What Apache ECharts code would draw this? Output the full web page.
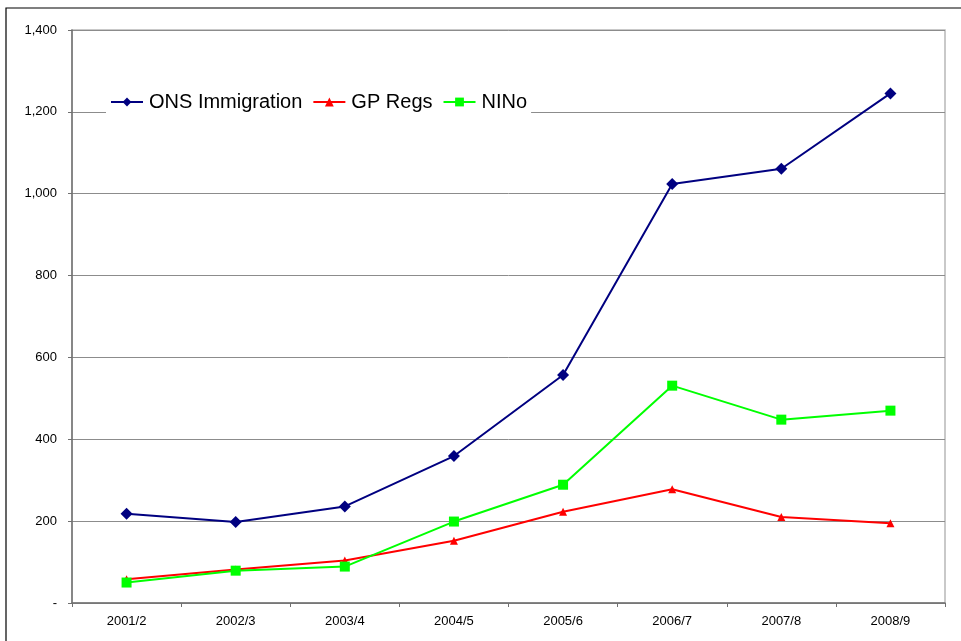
<!DOCTYPE html>
<html>
<head>
<meta charset="utf-8">
<script src="https://cdn.jsdelivr.net/npm/echarts@6/dist/echarts.min.js"></script>
<style>
  html, body { margin: 0; padding: 0; background: #ffffff; }
  #chart { width: 961px; height: 641px; }
</style>
</head>
<body>
<div id="chart"></div>
<script>
// Financial years on the category axis
const years = ['2001/2', '2002/3', '2003/4', '2004/5', '2005/6', '2006/7', '2007/8', '2008/9'];

// Thousands, per year
const onsImmigration = [218, 198, 236, 359, 557, 1024, 1061, 1245];
const gpRegs = [58, 82, 104, 152, 223, 278, 210, 195];
const nino = [50, 79, 89, 199, 289, 531, 448, 470];

// Y-axis range and step
const yMin = 0, yMax = 1400, yStep = 200;

const chart = echarts.init(document.getElementById('chart'), null, { renderer: 'canvas' });

const fontFamily = 'Liberation Sans, Arial, sans-serif';

chart.setOption({
  animation: false,
  backgroundColor: '#ffffff',
  graphic: [{
    type: 'rect',
    shape: { x: 6, y: 8, width: 1000, height: 700 },
    style: { fill: 'none', stroke: '#000000', lineWidth: 1.2 },
    silent: true,
    z: 100
  }],
  grid: {
    left: 72, right: 16, top: 30, bottom: 38,
    show: true,
    borderColor: '#b8b8b8',
    borderWidth: 1.5,
    backgroundColor: '#ffffff'
  },
  legend: {
    left: 106, top: 89,
    backgroundColor: '#ffffff',
    padding: [3, 4, 3, 4],
    itemWidth: 32, itemHeight: 11,
    itemGap: 10,
    textStyle: { fontFamily: fontFamily, fontSize: 20, color: '#000000', padding: [0, 0, 0, 1] },
    data: ['ONS Immigration', 'GP Regs', 'NINo'],
    z: 10
  },
  xAxis: {
    type: 'category',
    data: years,
    boundaryGap: true,
    axisLine: { lineStyle: { color: '#707070', width: 1.5 } },
    axisTick: { show: true, length: 4, lineStyle: { color: '#707070', width: 1 } },
    axisLabel: { color: '#000000', fontFamily: fontFamily, fontSize: 13, margin: 12 },
    splitLine: { show: false }
  },
  yAxis: {
    type: 'value',
    min: yMin, max: yMax, interval: yStep,
    axisLine: { show: true, lineStyle: { color: '#707070', width: 1.5 } },
    axisTick: { show: true, length: 4, lineStyle: { color: '#707070', width: 1 } },
    axisLabel: {
      color: '#000000', fontFamily: fontFamily, fontSize: 13, margin: 15,
      formatter: function (v) { return v === 0 ? '-' : v.toLocaleString('en-GB'); }
    },
    splitLine: { show: true, lineStyle: { color: '#8c8c8c', width: 1 } }
  },
  series: [
    {
      name: 'ONS Immigration', type: 'line', data: onsImmigration,
      symbol: 'diamond', symbolSize: 12,
      lineStyle: { color: '#000080', width: 2 },
      itemStyle: { color: '#000080' },
      z: 3
    },
    {
      name: 'GP Regs', type: 'line', data: gpRegs,
      symbol: 'triangle', symbolSize: 8,
      lineStyle: { color: '#ff0000', width: 2 },
      itemStyle: { color: '#ff0000' },
      z: 2
    },
    {
      name: 'NINo', type: 'line', data: nino,
      symbol: 'rect', symbolSize: 10,
      lineStyle: { color: '#00ff00', width: 2 },
      itemStyle: { color: '#00ff00' },
      z: 2
    }
  ]
});
</script>
</body>
</html>
